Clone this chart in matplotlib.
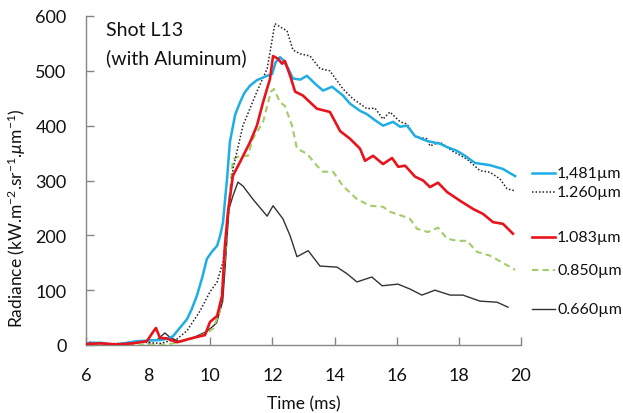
import matplotlib
matplotlib.use("Agg")
import matplotlib.pyplot as plt
from matplotlib.lines import Line2D

plt.rcParams['font.family'] = ['Lato', 'DejaVu Sans']
plt.rcParams['mathtext.fontset'] = 'custom'
plt.rcParams['mathtext.rm'] = 'Lato'
plt.rcParams['mathtext.it'] = 'Lato:italic'

# ---- data ----
t_1481 = [6.0, 6.13, 6.5, 6.87, 7.2, 7.64, 8.0, 8.38, 8.6, 8.8, 9.03, 9.25, 9.4, 9.57, 9.75, 9.89,
          10.05, 10.22, 10.32, 10.41, 10.5, 10.54, 10.63, 10.8, 10.96, 11.1, 11.28, 11.5, 11.83,
          11.99, 12.1, 12.24, 12.34, 12.5, 12.66, 12.9, 13.11, 13.4, 13.63, 13.92, 14.27, 14.5,
          14.82, 15.04, 15.3, 15.56, 15.88, 16.11, 16.33, 16.59, 16.98, 17.39, 17.62, 17.94,
          18.2, 18.52, 19.0, 19.42, 19.81]
v_1481 = [3, 4, 4, 0, 3, 7, 8, 9, 11, 16, 32, 47, 65, 90, 125, 157,
          170, 181, 200, 224, 280, 303, 370, 420, 443, 460, 473, 483, 491,
          494, 515, 525, 520, 505, 486, 484, 491, 475, 464, 471, 455, 440,
          427, 421, 410, 400, 407, 398, 400, 381, 372, 367, 361, 354,
          345, 332, 328, 321, 308]

t_1260 = [6.0, 6.13, 6.77, 7.3, 7.83, 8.4, 8.93, 9.25, 9.67, 9.99, 10.22, 10.41, 10.54, 10.73,
          11.05, 11.5, 11.83, 12.08, 12.34, 12.47, 12.66, 12.9, 13.21, 13.53, 13.85, 14.27, 14.59,
          15.04, 15.3, 15.56, 15.78, 16.11, 16.33, 16.59, 16.98, 17.07, 17.39, 17.78, 18.26,
          18.68, 19.0, 19.32, 19.55, 19.81]
v_1260 = [3, 5, 2, 4, 5, 3, 11, 26, 62, 97, 115, 152, 212, 321,
          400, 462, 504, 586, 577, 573, 538, 531, 527, 504, 500, 467, 449,
          431, 432, 412, 425, 407, 403, 380, 376, 363, 370, 354, 339,
          318, 315, 303, 285, 281]

t_1083 = [6.0, 6.5, 7.0, 7.5, 7.96, 8.16, 8.25, 8.38, 8.6, 8.93, 9.44, 9.83, 9.99, 10.22, 10.38,
          10.47, 10.57, 10.73, 10.96, 11.28, 11.5, 11.7, 11.92, 12.02, 12.18, 12.31, 12.4, 12.57,
          12.73, 12.98, 13.43, 13.85, 14.18, 14.5, 14.82, 14.98, 15.24, 15.56, 15.85, 16.05,
          16.27, 16.59, 16.85, 17.07, 17.33, 17.62, 18.04, 18.46, 18.78, 19.1, 19.42, 19.74]
v_1083 = [2, 3, 1, 3, 7, 24, 31, 13, 12, 5, 13, 18, 42, 53, 90,
          181, 243, 309, 334, 370, 400, 443, 485, 527, 522, 513, 518, 491,
          462, 455, 431, 425, 390, 376, 358, 336, 345, 330, 341, 325,
          327, 307, 300, 288, 296, 279, 263, 248, 239, 224, 221, 203]

t_0850 = [6.0, 7.0, 8.0, 8.6, 9.0, 9.44, 9.83, 10.09, 10.3, 10.41, 10.5, 10.57, 10.73, 10.96,
          11.21, 11.37, 11.7, 11.95, 12.05, 12.24, 12.4, 12.63, 12.79, 13.11, 13.43, 13.63, 13.95,
          14.27, 14.72, 15.14, 15.56, 15.78, 16.2, 16.43, 16.65, 17.0, 17.33, 17.62, 17.94,
          18.26, 18.58, 19.0, 19.32, 19.81]
v_0850 = [1, 0, 1, 1, 5, 12, 20, 30, 60, 120, 180, 243, 339, 345,
          345, 376, 407, 462, 467, 443, 436, 400, 358, 349, 327, 316, 316,
          290, 266, 254, 252, 243, 235, 230, 212, 206, 214, 194, 190,
          190, 170, 163, 153, 137]

t_0660 = [6.0, 6.5, 7.0, 7.5, 8.0, 8.3, 8.54, 8.7, 9.0, 9.4, 9.9, 10.2, 10.4, 10.5, 10.6, 10.73,
          10.89, 11.05, 11.37, 11.83, 12.02, 12.34, 12.57, 12.79, 13.15, 13.53, 14.08, 14.4,
          14.72, 15.2, 15.53, 16.04, 16.43, 16.81, 17.23, 17.72, 18.13, 18.68, 19.23, 19.58]
v_0660 = [2, 3, 1, 3, 8, 10, 22, 14, 6, 12, 25, 40, 80, 160, 248, 272,
          297, 290, 266, 235, 254, 230, 199, 161, 172, 144, 142, 130,
          115, 124, 108, 111, 102, 91, 100, 91, 91, 80, 78, 69]

labels = ["1,481\u00b5m", "1.260\u00b5m", "1.083\u00b5m", "0.850\u00b5m", "0.660\u00b5m"]
x_ticks = [6, 8, 10, 12, 14, 16, 18, 20]
y_ticks = [0, 100, 200, 300, 400, 500, 600]

# ---- figure ----
W, H = 623, 414
fig = plt.figure(figsize=(W / 100, H / 100), dpi=100)
ax = fig.add_axes([86 / W, 1 - 346 / H, (521 - 86) / W, (346 - 17) / H])

styles = [
    dict(color='#1EAEE3', lw=1.8, ls='-'),
    dict(color='#222222', lw=1.1, ls=(0, (1, 1.3))),
    dict(color='#E8141C', lw=1.9, ls='-'),
    dict(color='#A2CC68', lw=1.5, ls=(0, (3, 2))),
    dict(color='#333333', lw=1.0, ls='-'),
]
series = [(t_1481, v_1481), (t_1260, v_1260), (t_1083, v_1083), (t_0850, v_0850), (t_0660, v_0660)]
order = [4, 3, 1, 0, 2]
for i in order:
    t, v = series[i]
    ax.plot(t, v, zorder=3 + (i == 2), **styles[i])

ax.set_xlim(6, 20)
ax.set_ylim(0, 600)
ax.set_xticks(x_ticks)
ax.set_yticks(y_ticks)
for s in ['top', 'right']:
    ax.spines[s].set_visible(False)
for s in ['left', 'bottom']:
    ax.spines[s].set_color('#868686')
    ax.spines[s].set_linewidth(1.0)
ax.tick_params(axis='both', direction='in', length=6, width=1.0, color='#868686',
               labelsize=13, labelcolor='#111111')
ax.tick_params(axis='y', pad=14)
ax.tick_params(axis='x', pad=16)

ax.set_xlabel("Time (ms)", fontsize=12.5, color='#111111', labelpad=9)
fig.text(17 / W, 1 - 218 / H, r"Radiance (kW.m$^{-2}$.sr$^{-1}$.$\mu$m$^{-1}$)",
         rotation=90, ha='center', va='center', fontsize=12.5, color='#111111')

fig.text(106 / W, 1 - 31 / H, "Shot L13", ha='left', va='center', fontsize=14, color='#111111')
fig.text(106 / W, 1 - 58 / H, "(with Aluminum)", ha='left', va='center', fontsize=14, color='#111111')

# legend entries placed at the right
leg_y = [174, 193, 238, 271, 310]
for i, y in enumerate(leg_y):
    yf = 1 - y / H
    st = styles[i]
    fig.add_artist(Line2D([532 / W, 555 / W], [yf, yf], transform=fig.transFigure,
                          color=st['color'], lw=st['lw'], ls=st['ls']))
    fig.text(557 / W, yf, labels[i], ha='left', va='center', fontsize=11.5, color='#111111')

fig.savefig("out.png", dpi=100)
